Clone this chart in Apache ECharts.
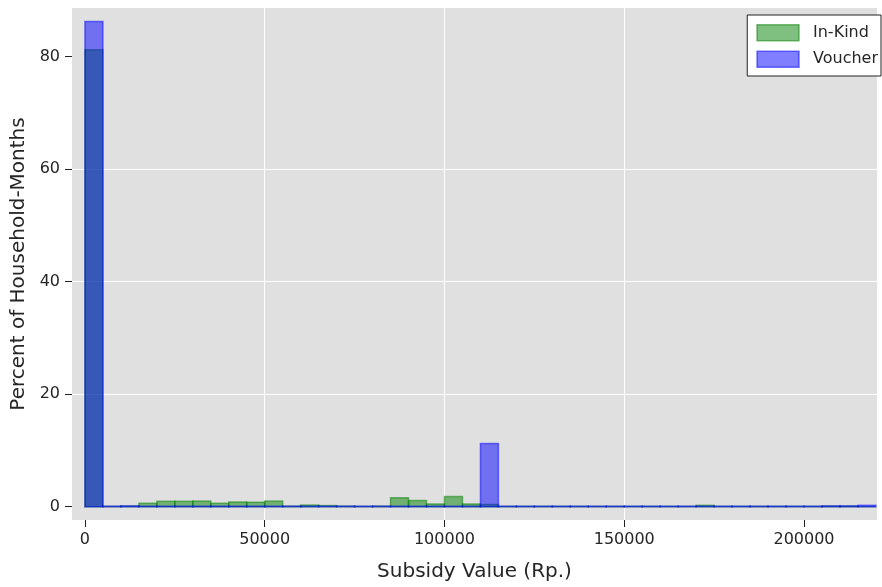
<!DOCTYPE html>
<html>
<head>
<meta charset="utf-8">
<script src="https://cdn.jsdelivr.net/npm/echarts@6/dist/echarts.min.js"></script>
<style>
html,body{margin:0;padding:0;background:#fff;}
#chart{width:882px;height:587px;}
</style>
</head>
<body>
<div id="chart"></div>
<script>
// Bin left edges (Rp.), bin width 5000
const binStarts = [0,5000,10000,15000,20000,25000,30000,35000,40000,45000,
  50000,55000,60000,65000,70000,75000,80000,85000,90000,95000,
  100000,105000,110000,115000,120000,125000,130000,135000,140000,145000,
  150000,155000,160000,165000,170000,175000,180000,185000,190000,195000,
  200000,205000,210000,215000];
const binWidth = 5000;

const inKind = [81.2,0.05,0.1,0.6,0.95,0.95,1.0,0.6,0.85,0.8,
  1.0,0.1,0.3,0.2,0.1,0.05,0.1,1.6,1.1,0.5,
  1.8,0.5,0.4,0.05,0.05,0.05,0.05,0.05,0.05,0.05,
  0.05,0.05,0.05,0.05,0.25,0.05,0.05,0.05,0.05,0.05,
  0.05,0.1,0.1,0];
const voucher = [86.2,0.1,0.15,0.1,0.1,0.1,0.1,0.1,0.1,0.1,
  0.1,0.1,0.1,0.1,0.1,0.1,0.1,0.1,0.1,0.1,
  0.1,0.1,11.25,0.1,0.1,0.1,0.1,0.1,0.1,0.1,
  0.1,0.1,0.1,0.1,0.1,0.1,0.1,0.1,0.1,0.1,
  0.1,0.15,0.15,0.25];

const xTicks = [0,50000,100000,150000,200000];
const yTicks = [0,20,40,60,80];

const seriesNames = ['In-Kind','Voucher'];
const fills = ['rgba(0,128,0,0.5)','rgba(0,0,255,0.5)'];

function makeData(vals){
  return binStarts.map((s,i)=>[s, vals[i]]);
}
function renderBar(fill){
  return function(params, api){
    const x0 = api.value(0);
    const v = api.value(1);
    const p0 = api.coord([x0, 0]);
    const p1 = api.coord([x0 + binWidth, v]);
    return {
      type:'rect',
      shape:{x:p0[0], y:p1[1], width:p1[0]-p0[0], height:p0[1]-p1[1]},
      style:{fill:fill, stroke:fill, lineWidth:1.5}
    };
  };
}

const chart = echarts.init(document.getElementById('chart'), null, {renderer:'canvas'});
const textColor = '#262626';
const fontFam = '"DejaVu Sans", sans-serif';
chart.setOption({
  animation:false,
  grid:{left:72, right:5, top:8, bottom:66, show:true, backgroundColor:'#e0e0e0', borderWidth:0},
  legend:{
    right:1, top:15, orient:'vertical',
    backgroundColor:'#fff', borderColor:'#222', borderWidth:1, borderRadius:0,
    padding:[9,3,8,9], itemWidth:42, itemHeight:16, itemGap:9,
    textStyle:{fontSize:16, color:textColor, fontFamily:fontFam, padding:[0,0,0,9]},
    data: seriesNames.map((n,i)=>({name:n, icon:'rect', itemStyle:{color:fills[i], borderColor:fills[i], borderWidth:1.5}}))
  },
  xAxis:{
    type:'value', min:-3600, max:220300,
    name:'Subsidy Value (Rp.)', nameLocation:'middle', nameGap:42,
    nameTextStyle:{fontSize:20, color:textColor, fontFamily:fontFam},
    axisLine:{show:false, onZero:false},
    axisTick:{show:true, length:7, lineStyle:{color:'#222', width:1}, customValues:xTicks},
    axisLabel:{fontSize:16, color:textColor, fontFamily:fontFam, margin:12, customValues:xTicks, formatter:v=>String(v)},
    splitLine:{show:true, lineStyle:{color:'#fff', width:1}, showMinLine:false, showMaxLine:false}
  },
  yAxis:{
    type:'value', min:-2.36, max:88.6,
    name:'Percent of Household-Months', nameLocation:'middle', nameGap:37,
    nameTextStyle:{fontSize:20, color:textColor, fontFamily:fontFam},
    axisLine:{show:false, onZero:false},
    axisTick:{show:true, length:7, lineStyle:{color:'#222', width:1}, customValues:yTicks},
    axisLabel:{fontSize:16, color:textColor, fontFamily:fontFam, margin:12, customValues:yTicks, formatter:v=>String(v)},
    splitLine:{show:true, lineStyle:{color:'#fff', width:1}, showMinLine:false, showMaxLine:false}
  },
  series:[
    {name:seriesNames[0], type:'custom', renderItem:renderBar(fills[0]), itemStyle:{color:fills[0]}, data:makeData(inKind), encode:{x:0,y:1}, clip:true},
    {name:seriesNames[1], type:'custom', renderItem:renderBar(fills[1]), itemStyle:{color:fills[1]}, data:makeData(voucher), encode:{x:0,y:1}, clip:true}
  ]
});
</script>
</body>
</html>
